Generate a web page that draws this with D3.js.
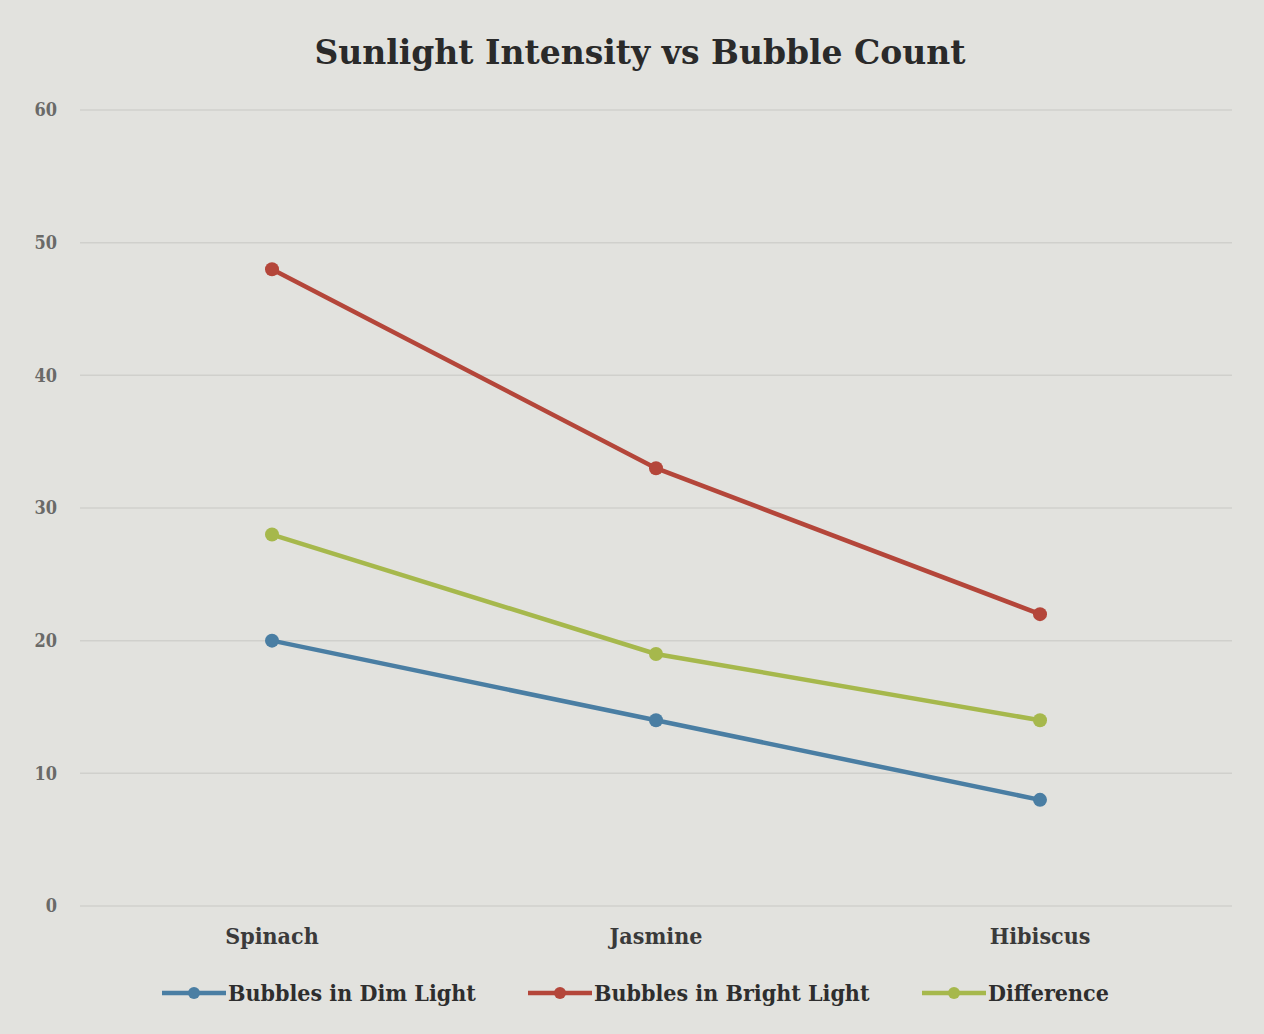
<!DOCTYPE html>
<html>
<head>
<meta charset="utf-8">
<script src="https://cdn.jsdelivr.net/npm/d3@7"></script>
<style>
body { margin: 0; background: #e2e2de; }
</style>
</head>
<body>
<div id="canvas"></div>
<script>
var w = 1264;
var h = 1034;

var plants = ["Spinach", "Jasmine", "Hibiscus"];
var dimLight = [20, 14, 8];
var brightLight = [48, 33, 22];
var difference = [28, 19, 14];
var yTicks = [0, 10, 20, 30, 40, 50, 60];

var series = [
  { name: "Bubbles in Dim Light", values: dimLight, color: "#4a7ea3" },
  { name: "Bubbles in Bright Light", values: brightLight, color: "#b4463a" },
  { name: "Difference", values: difference, color: "#a6b84c" }
];

var labelFont = "'DejaVu Serif Condensed', 'DejaVu Serif', serif";

var svg = d3.select("#canvas")
  .append("svg")
  .attr("width", w)
  .attr("height", h)
  .style("background-color", "#e2e2de");

var xScale = d3.scalePoint()
  .domain(plants)
  .range([272, 1040]);

var yScale = d3.scaleLinear()
  .domain([0, 60])
  .range([906, 110]);

// gridlines
svg.append("g")
  .selectAll("line")
  .data(yTicks)
  .join("line")
  .attr("x1", 80)
  .attr("x2", 1232)
  .attr("y1", d => yScale(d))
  .attr("y2", d => yScale(d))
  .attr("stroke", "#d0d0cc")
  .attr("stroke-width", 1.5);

// y labels
svg.append("g")
  .selectAll("text")
  .data(yTicks)
  .join("text")
  .attr("x", 57)
  .attr("y", d => yScale(d))
  .attr("dy", "0.35em")
  .attr("text-anchor", "end")
  .attr("fill", "#6a6a68")
  .style("font-family", labelFont)
  .style("font-weight", "bold")
  .style("font-size", "18px")
  .text(d => d);

// category labels
svg.append("g")
  .selectAll("text")
  .data(plants)
  .join("text")
  .attr("x", d => xScale(d))
  .attr("y", 944)
  .attr("text-anchor", "middle")
  .attr("fill", "#3a3a3a")
  .style("font-family", labelFont)
  .style("font-weight", "bold")
  .style("font-size", "23px")
  .text(d => d);

var line = d3.line()
  .x((d, i) => xScale(plants[i]))
  .y(d => yScale(d));

series.forEach(function(s) {
  svg.append("path")
    .datum(s.values)
    .attr("d", line)
    .attr("fill", "none")
    .attr("stroke", s.color)
    .attr("stroke-width", 4.5);

  svg.append("g")
    .selectAll("circle")
    .data(s.values)
    .join("circle")
    .attr("cx", (d, i) => xScale(plants[i]))
    .attr("cy", d => yScale(d))
    .attr("r", 7)
    .attr("fill", s.color);
});

// legend
var legendX = [162, 528, 922];
var legendItems = svg.append("g")
  .selectAll("g")
  .data(series)
  .join("g")
  .attr("transform", (d, i) => "translate(" + legendX[i] + ", 993)");

legendItems.append("line")
  .attr("x1", 0)
  .attr("x2", 64)
  .attr("stroke", d => d.color)
  .attr("stroke-width", 4.5);

legendItems.append("circle")
  .attr("cx", 32)
  .attr("r", 6)
  .attr("fill", d => d.color);

legendItems.append("text")
  .attr("x", 66)
  .attr("dy", "0.35em")
  .attr("fill", "#2e2e2e")
  .style("font-family", labelFont)
  .style("font-weight", "bold")
  .style("font-size", "23px")
  .text(d => d.name);

// title
svg.append("text")
  .attr("x", 640)
  .attr("y", 64)
  .attr("text-anchor", "middle")
  .attr("fill", "#2a2a2a")
  .style("font-family", "'DejaVu Serif', serif")
  .style("font-weight", "bold")
  .style("font-size", "33px")
  .text("Sunlight Intensity vs Bubble Count");
</script>
</body>
</html>
